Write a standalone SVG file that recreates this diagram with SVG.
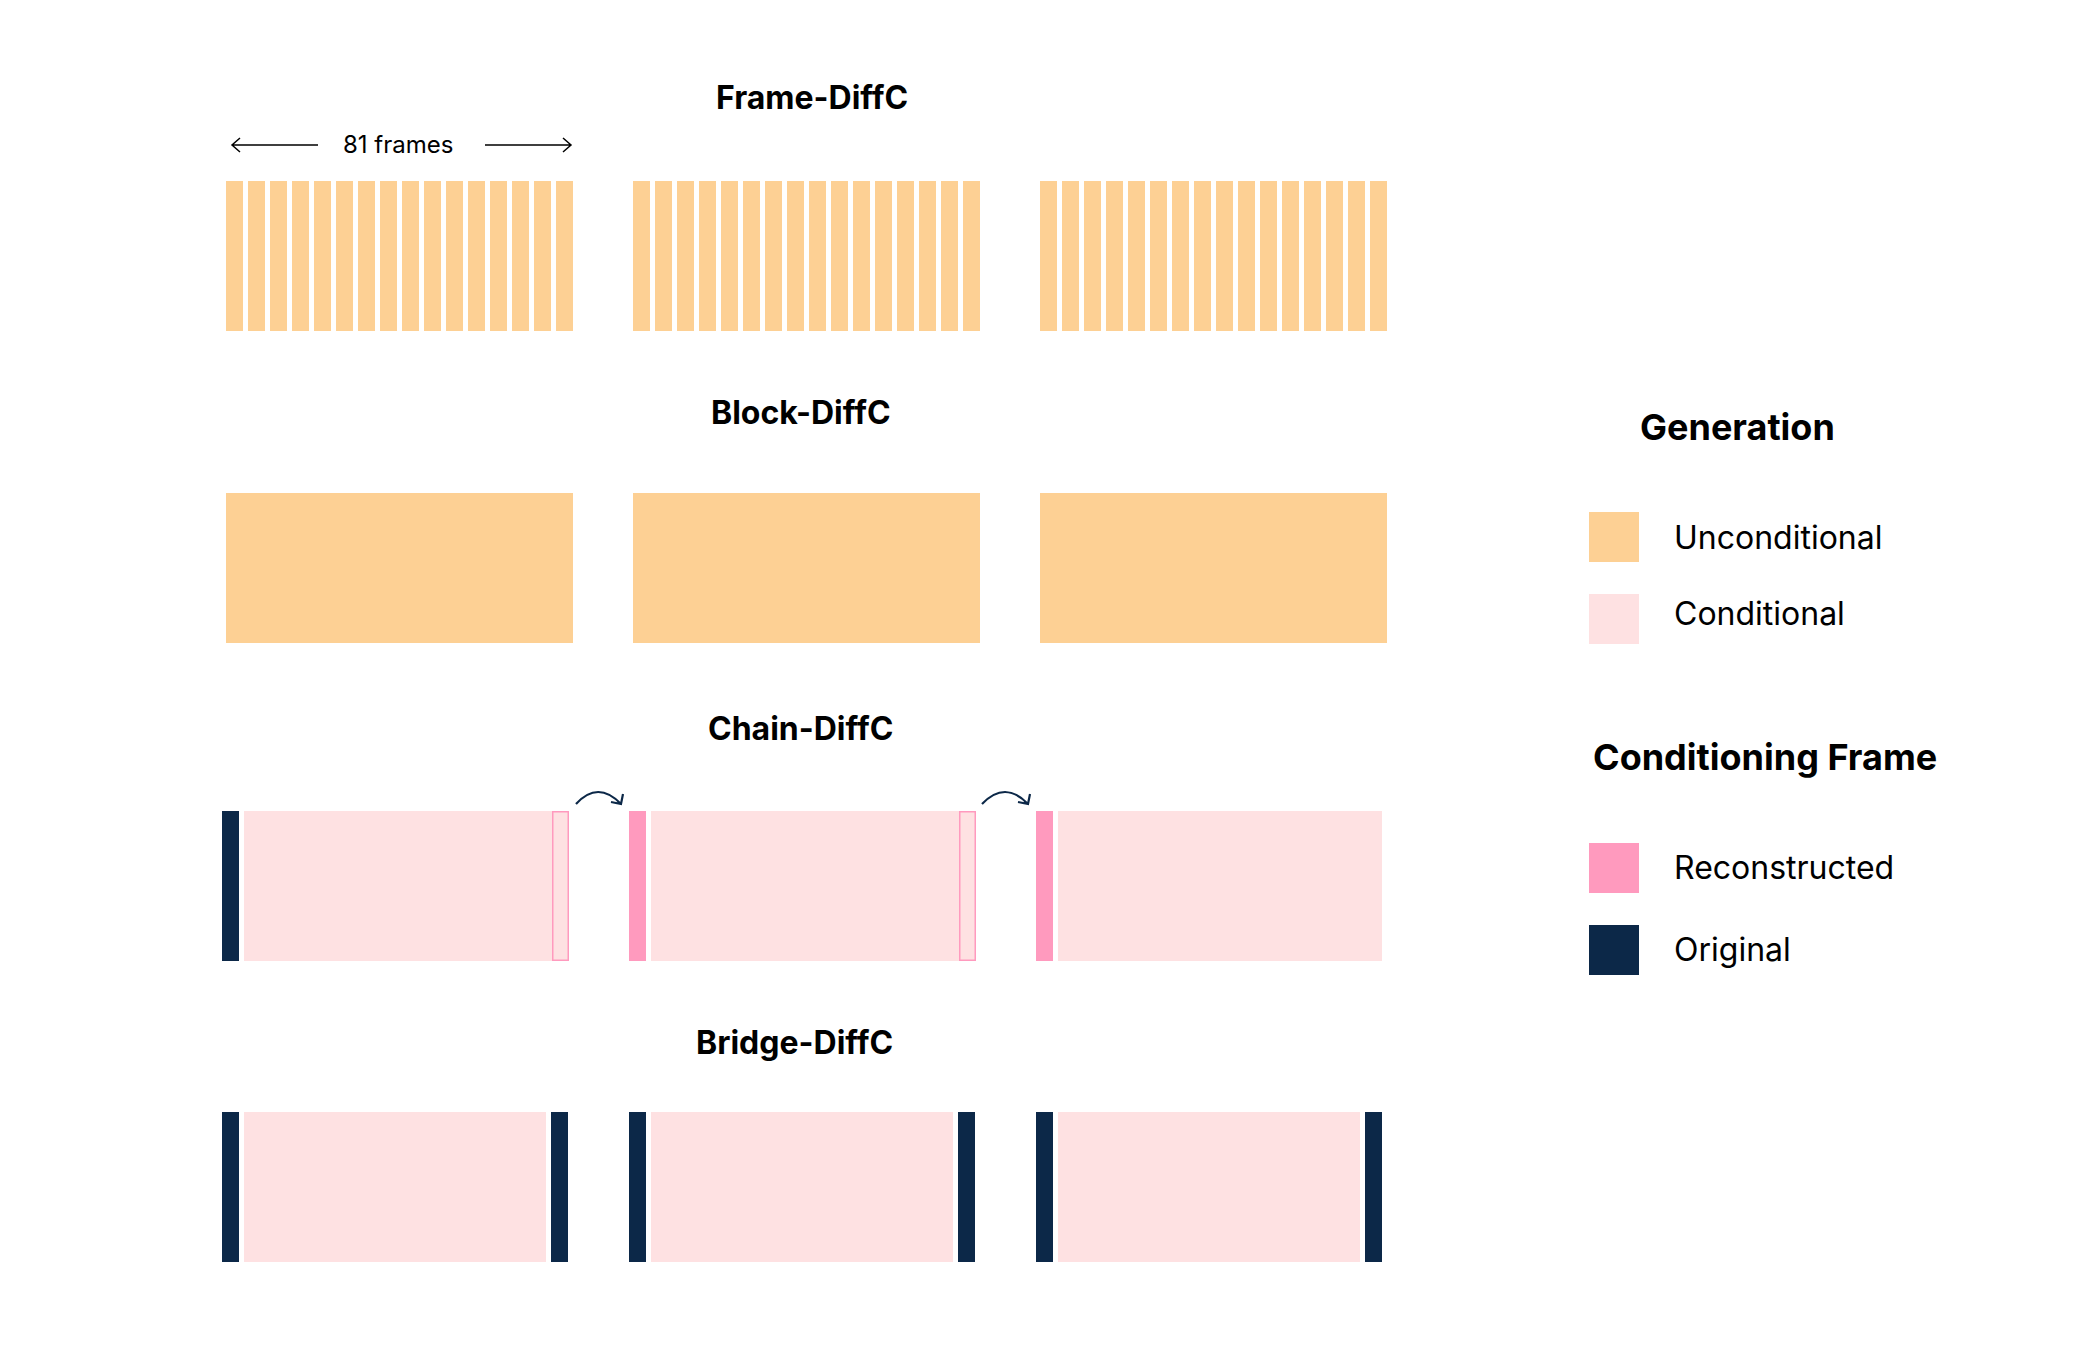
<svg xmlns="http://www.w3.org/2000/svg" width="2100" height="1364" viewBox="0 0 2100 1364">
<defs>
<style>
.t{font-family:Inter,"Noto Sans","Liberation Sans",sans-serif;fill:#000}
.title{font-size:32px;font-weight:700}
.lh{font-size:36px;font-weight:700}
.ll{font-size:32px;font-weight:400}
.sm{font-size:24px;font-weight:400}
.unc{fill:#FDD094}
.con{fill:#FEE1E2}
.rec{fill:#FF9ABE}
.org{fill:#0C2848}
.ol{fill:#FEE1E2;stroke:#FF9ABE;stroke-width:1.5}
.ln{fill:none;stroke:#000;stroke-width:1.5}
.arc{fill:none;stroke:#0C2848;stroke-width:2.2}
</style>
<pattern id="frames" x="0" y="0" width="22" height="10" patternUnits="userSpaceOnUse">
<rect x="0" y="0" width="17" height="10" fill="#FDD094"/>
</pattern>
</defs>
<rect width="2100" height="1364" fill="#fff"/>

<g id="frame-diffc">
<text class="t title" x="716" y="109">Frame-DiffC</text>
<text class="t sm" x="343" y="153">81 frames</text>
<rect x="0" y="0" width="347" height="150" fill="url(#frames)" transform="translate(226,181)"/>
<rect x="0" y="0" width="347" height="150" fill="url(#frames)" transform="translate(633,181)"/>
<rect x="0" y="0" width="347" height="150" fill="url(#frames)" transform="translate(1040,181)"/>
</g>

<g id="block-diffc">
<text class="t title" x="711" y="424">Block-DiffC</text>
<rect class="unc" x="226" y="493" width="347" height="150"/>
<rect class="unc" x="633" y="493" width="347" height="150"/>
<rect class="unc" x="1040" y="493" width="347" height="150"/>
</g>

<g id="chain-diffc">
<text class="t title" x="708" y="740">Chain-DiffC</text>
<rect class="org" x="222" y="811" width="17" height="150"/>
<rect class="con" x="244" y="811" width="325" height="150"/>
<rect class="ol" x="552.75" y="811.75" width="15.5" height="148.5"/>
<rect class="rec" x="629" y="811" width="17" height="150"/>
<rect class="con" x="651" y="811" width="325" height="150"/>
<rect class="ol" x="959.75" y="811.75" width="15.5" height="148.5"/>
<rect class="rec" x="1036" y="811" width="17" height="150"/>
<rect class="con" x="1058" y="811" width="324" height="150"/>
</g>

<g id="bridge-diffc">
<text class="t title" x="696" y="1054">Bridge-DiffC</text>
<rect class="org" x="222" y="1112" width="17" height="150"/>
<rect class="con" x="244" y="1112" width="302" height="150"/>
<rect class="org" x="551" y="1112" width="17" height="150"/>
<rect class="org" x="629" y="1112" width="17" height="150"/>
<rect class="con" x="651" y="1112" width="302" height="150"/>
<rect class="org" x="958" y="1112" width="17" height="150"/>
<rect class="org" x="1036" y="1112" width="17" height="150"/>
<rect class="con" x="1058" y="1112" width="302" height="150"/>
<rect class="org" x="1365" y="1112" width="17" height="150"/>
</g>

<g id="legend-generation">
<text class="t lh" x="1640" y="440">Generation</text>
<rect class="unc" x="1589" y="512" width="50" height="50"/>
<text class="t ll" x="1674" y="549">Unconditional</text>
<rect class="con" x="1589" y="594" width="50" height="50"/>
<text class="t ll" x="1674" y="625">Conditional</text>
</g>

<g id="legend-conditioning">
<text class="t lh" x="1593" y="770">Conditioning Frame</text>
<rect class="rec" x="1589" y="843" width="50" height="50"/>
<text class="t ll" x="1674" y="879">Reconstructed</text>
<rect class="org" x="1589" y="925" width="50" height="50"/>
<text class="t ll" x="1674" y="961">Original</text>
</g>

<g id="connectors">
<path class="ln" d="M318 145 H232 M240 138 L232 145 L240 152"/>
<path class="ln" d="M485 145 H571 M563 138 L571 145 L563 152"/>
<path class="arc" d="M576 804 Q598 780 621 804 M611 802 L621 804 L623 794"/>
<path class="arc" d="M982 804 Q1005 780 1028 804 M1018 802 L1028 804 L1030 794"/>
</g>
</svg>
